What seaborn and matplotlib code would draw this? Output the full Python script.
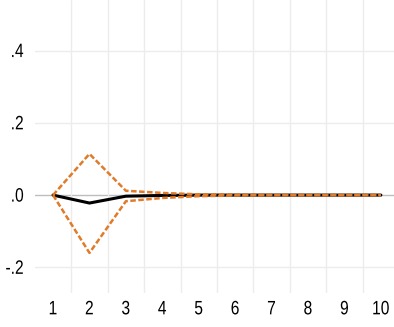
import matplotlib
matplotlib.use("Agg")
import matplotlib.pyplot as plt
from matplotlib.patheffects import AbstractPathEffect
from matplotlib.transforms import Affine2D
import seaborn as sns
import pandas as pd
import numpy as np

# Impulse response with confidence band
steps = [1, 2, 3, 4, 5, 6, 7, 8, 9, 10]
irf = [0.0, -0.022, -0.003, -0.001, 0.0, 0.0, 0.0, 0.0, 0.0, 0.0]
upper = [0.0, 0.114, 0.012, 0.006, 0.002, 0.001, 0.0005, 0.0002, 0.0001, 0.0]
lower = [0.0, -0.160, -0.017, -0.008, -0.003, -0.001, -0.0005, -0.0002, -0.0001, 0.0]
ytick_vals = [-0.2, 0.0, 0.2, 0.4]
ytick_labels = ["-.2", ".0", ".2", ".4"]

df = pd.DataFrame({"step": steps, "irf": irf, "upper": upper, "lower": lower})


class Condense(AbstractPathEffect):
    """Narrow the glyphs horizontally while keeping the text anchored."""

    def __init__(self, sx=0.85, frac=0.5):
        super().__init__()
        self.sx = sx
        self.frac = frac

    def draw_path(self, renderer, gc, tpath, affine, rgbFace=None):
        ext = tpath.get_extents()
        shift = (1 - self.sx) * ext.x1 * self.frac
        aff = Affine2D().scale(self.sx, 1).translate(shift, 0) + affine
        renderer.draw_path(gc, tpath, aff, rgbFace)


sns.set_theme(style="white")
plt.rcParams["font.family"] = ["Liberation Sans", "DejaVu Sans"]

fig = plt.figure(figsize=(3.94, 3.27), dpi=100)
ax = fig.add_axes([35 / 394, (327 - 293) / 327, (394 - 35) / 394, 293 / 327])

orange = "#E07B2A"
dash = (0, (2.2, 1.0))
sns.lineplot(data=df, x="step", y="upper", ax=ax, color=orange, lw=1.8,
             linestyle=dash, zorder=3)
sns.lineplot(data=df, x="step", y="lower", ax=ax, color=orange, lw=1.8,
             linestyle=dash, zorder=3)
sns.lineplot(data=df, x="step", y="irf", ax=ax, color="black", lw=2.2, zorder=2)

ax.set_xlim(0.505, 10.36)
ax.set_ylim(-0.271, 0.54)

# grid: horizontal at ticks, vertical between steps
for y in ytick_vals:
    ax.axhline(y, color="#bdbdbd" if y == 0 else "#ececec", lw=1.0, zorder=0)
for x in np.arange(1.5, 10, 1.0):
    ax.axvline(x, color="#ececec", lw=1.0, zorder=0)

ax.set_xticks(steps)
ax.set_xticklabels([str(s) for s in steps])
ax.set_yticks(ytick_vals)
ax.set_yticklabels(ytick_labels)
ax.tick_params(axis="both", length=0, labelsize=14, colors="black")
ax.tick_params(axis="x", pad=6)
ax.tick_params(axis="y", pad=8)
for t in ax.get_xticklabels():
    t.set_path_effects([Condense(0.8, 0.5)])
for t in ax.get_yticklabels():
    t.set_path_effects([Condense(0.8, 1.0)])
ax.set_xlabel("")
ax.set_ylabel("")
for s in ax.spines.values():
    s.set_visible(False)

fig.savefig("out.png", dpi=100)
